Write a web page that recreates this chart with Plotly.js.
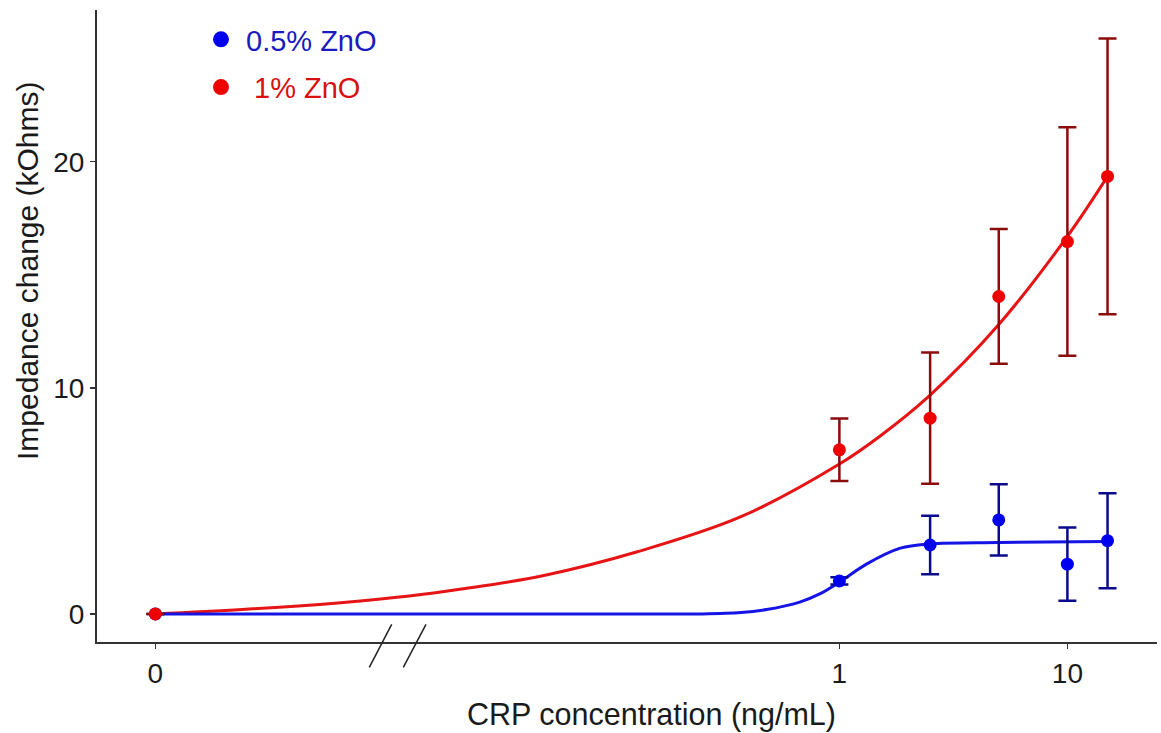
<!DOCTYPE html>
<html>
<head>
<meta charset="utf-8">
<script src="https://cdn.plot.ly/plotly-3.0.1.min.js"></script>
<style>html,body{margin:0;padding:0;background:#fff;}#chart{width:1161px;height:733px;}</style>
</head>
<body>
<div id="chart"></div>
<script>
// ---- data ----
const concentration = [0, 1, 2.5, 5, 10, 15];               // ng/mL
const zno05Mean = [0, 1.46, 3.05, 4.16, 2.2, 3.24];         // kOhms
const zno05Err  = [0, 0.16, 1.29, 1.58, 1.62, 2.1];
const zno1Mean  = [0, 7.26, 8.66, 14.04, 16.47, 19.35];
const zno1Err   = [0, 1.38, 2.9, 2.98, 5.05, 6.1];

// fitted curves
const fit05X = [0, 0.1, 0.245, 0.37, 0.48, 0.67, 0.82, 1, 1.32, 1.85, 2.5, 5, 15];
const fit05Y = [0, 0, 0, 0.06, 0.195, 0.525, 0.885, 1.405, 2.215, 2.91, 3.1, 3.16, 3.2];
const fit1X  = [0, 0.0024, 0.0065, 0.013, 0.022, 0.05, 0.13, 0.37, 1, 1.5, 2.5, 5, 10, 15];
const fit1Y  = [0, 0.20, 0.50, 0.79, 1.10, 1.69, 2.75, 4.30, 6.63, 7.85, 9.68, 12.8, 16.7, 19.35];

const seriesNames = ['0.5% ZnO', '\u00a01% ZnO'];
const xTickLabels = ['0', '1', '10'];
const yTickVals = [0, 10, 20];

// the broken axis: zero is drawn at 0.001 on the log scale
const ZERO_POS = 0.001;
const brk = v => (v === 0 ? ZERO_POS : v);

const BLUE = '#0000ee', BLUE_LINE = '#1414e6', BLUE_ERR = '#0a0a8c';
const RED = '#ee0000', RED_LINE = '#e61414', RED_ERR = '#8c0c0c';

const traces = [
  { x: fit1X.map(brk), y: fit1Y, mode: 'lines', line: { color: RED_LINE, width: 3, shape: 'spline', smoothing: 1 }, showlegend: false, hoverinfo: 'skip' },
  { x: fit05X.map(brk), y: fit05Y, mode: 'lines', line: { color: BLUE_LINE, width: 3, shape: 'spline', smoothing: 1 }, showlegend: false, hoverinfo: 'skip' },
  { x: concentration.map(brk), y: zno05Mean, mode: 'markers', marker: { color: BLUE, size: 13 },
    error_y: { type: 'data', array: zno05Err, visible: true, color: BLUE_ERR, thickness: 2.5, width: 9 }, showlegend: false, name: seriesNames[0] },
  { x: concentration.map(brk), y: zno1Mean, mode: 'markers', marker: { color: RED, size: 13 },
    error_y: { type: 'data', array: zno1Err, visible: true, color: RED_ERR, thickness: 2.5, width: 9 }, showlegend: false, name: seriesNames[1] },
  // legend entries
  { x: [null], y: [null], mode: 'markers', marker: { color: BLUE, size: 16 }, legendgroup: 'a',
    name: '<span style="color:#1a1ac0">' + seriesNames[0] + '</span>' },
  { x: [null], y: [null], mode: 'markers', marker: { color: RED, size: 16 }, legendgroup: 'b',
    name: '<span style="color:#d81010">' + seriesNames[1] + '</span>' }
];

const FONT = 'Arial, "Liberation Sans", sans-serif';
const px2paperX = p => (p - 97) / 1060;
const px2paperY = p => (642 - p) / 632;

const layout = {
  width: 1161, height: 733,
  margin: { l: 97, r: 4, t: 10, b: 91 },
  paper_bgcolor: '#ffffff', plot_bgcolor: '#ffffff',
  font: { family: FONT, color: '#1a1a1a' },
  showlegend: true,
  legend: { x: px2paperX(196), xanchor: 'left', y: px2paperY(14), yanchor: 'top', itemwidth: 40,
            font: { size: 29, family: FONT }, bgcolor: 'rgba(0,0,0,0)', tracegroupgap: 7 },
  xaxis: {
    type: 'log', range: [-3.256, 1.393],
    tickvals: [ZERO_POS, 1, 10], ticktext: xTickLabels,
    showline: true, linecolor: '#333', linewidth: 2,
    ticks: 'outside', ticklen: 5, tickwidth: 1.5, tickcolor: '#333',
    showgrid: false, zeroline: false,
    tickfont: { size: 28, family: FONT, color: '#1a1a1a' }
  },
  yaxis: {
    range: [-1.24, 26.71],
    tickvals: yTickVals,
    showline: true, linecolor: '#333', linewidth: 2,
    ticks: 'outside', ticklen: 5, tickwidth: 1.5, tickcolor: '#333',
    showgrid: false, zeroline: false,
    tickfont: { size: 28, family: FONT, color: '#1a1a1a' }
  },
  annotations: [
    { text: 'CRP concentration (ng/mL)', xref: 'paper', yref: 'paper', x: px2paperX(651.5), y: px2paperY(714),
      xanchor: 'center', yanchor: 'middle', showarrow: false, font: { size: 30.5, family: FONT, color: '#1a1a1a' } },
    { text: 'Impedance change (kOhms)', xref: 'paper', yref: 'paper', x: px2paperX(27), y: px2paperY(271),
      xanchor: 'center', yanchor: 'middle', textangle: -90, showarrow: false, font: { size: 30, family: FONT, color: '#1a1a1a' } }
  ],
  shapes: [
    { type: 'line', xref: 'paper', yref: 'paper', x0: px2paperX(369.3), y0: px2paperY(667.3), x1: px2paperX(391.7), y1: px2paperY(624.3),
      line: { color: '#222', width: 1.5 } },
    { type: 'line', xref: 'paper', yref: 'paper', x0: px2paperX(403.3), y0: px2paperY(667.3), x1: px2paperX(426), y1: px2paperY(624.3),
      line: { color: '#222', width: 1.5 } }
  ]
};

Plotly.newPlot('chart', traces, layout, { displayModeBar: false, staticPlot: true });
</script>
</body>
</html>
